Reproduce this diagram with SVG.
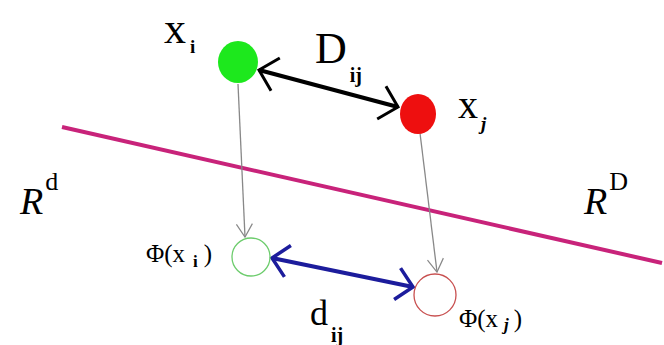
<svg xmlns="http://www.w3.org/2000/svg" width="664" height="345" viewBox="0 0 664 345">
<style>
text{font-family:"Liberation Serif","Times New Roman","DejaVu Serif",serif;fill:#000}
.it{font-style:italic}
.sub{font-weight:bold}
</style>
<defs>
<marker id="ak" markerUnits="userSpaceOnUse" markerWidth="40" markerHeight="40" viewBox="-20 -20 40 40" refX="0" refY="0" orient="auto-start-reverse" overflow="visible">
<path d="M-17,-17 L0,0 L-17,17" fill="none" stroke="#000" stroke-width="3"/>
</marker>
<marker id="ab" markerUnits="userSpaceOnUse" markerWidth="40" markerHeight="40" viewBox="-20 -20 40 40" refX="0" refY="0" orient="auto-start-reverse" overflow="visible">
<path d="M-16,-16 L0,0 L-16,16" fill="none" stroke="#1c1c9c" stroke-width="3.5"/>
</marker>
<marker id="ag" markerUnits="userSpaceOnUse" markerWidth="30" markerHeight="30" viewBox="-15 -15 30 30" refX="0" refY="0" orient="auto" overflow="visible">
<path d="M-13,-8 L0,0 L-13,8" fill="none" stroke="#888" stroke-width="1.2"/>
</marker>
</defs>
<line id="plane" x1="62" y1="127" x2="662" y2="263" stroke="#c8237a" stroke-width="4"/>
<g id="connectors" fill="none">
<line x1="238" y1="84" x2="245" y2="237" stroke="#888" stroke-width="1.3" marker-end="url(#ag)"/>
<line x1="420" y1="133" x2="437" y2="272" stroke="#888" stroke-width="1.3" marker-end="url(#ag)"/>
<line x1="259" y1="70" x2="398" y2="107" stroke="#000" stroke-width="4" marker-start="url(#ak)" marker-end="url(#ak)"/>
<line x1="272" y1="258" x2="413" y2="287" stroke="#1c1c9c" stroke-width="4" marker-start="url(#ab)" marker-end="url(#ab)"/>
</g>
<g id="xi">
<ellipse cx="238" cy="62" rx="20" ry="21" fill="#1de81d"/>
<text x="164" y="43" font-size="44">x<tspan class="sub" font-size="19" dx="4" dy="10">i</tspan></text>
</g>
<g id="xj">
<ellipse cx="418" cy="114" rx="18" ry="20" fill="#ee0f0f"/>
<text x="458" y="118" font-size="40">x<tspan class="sub it" font-size="19" dx="3" dy="12">j</tspan></text>
</g>
<g id="Dij">
<text x="315" y="63" font-size="44">D<tspan class="sub" font-size="20" dx="3" dy="19">ij</tspan></text>
</g>
<g id="phixi">
<circle cx="251" cy="257" r="19" fill="none" stroke="#6ccc6c" stroke-width="1.3"/>
<text x="146" y="262" font-size="25">Φ(x<tspan class="sub" font-size="17" dx="8" dy="5">i</tspan><tspan dy="-5" dx="6">)</tspan></text>
</g>
<g id="phixj">
<circle cx="435" cy="295" r="21" fill="none" stroke="#c85050" stroke-width="1.3"/>
<text x="459" y="327" font-size="25">Φ(x<tspan class="sub it" font-size="17" dx="6" dy="3">j</tspan><tspan dy="-3" dx="5">)</tspan></text>
</g>
<g id="dij">
<text x="310" y="325" font-size="36">d<tspan class="sub" font-size="20" dx="3" dy="17">ij</tspan></text>
</g>
<g id="Rd">
<text x="20" y="214" font-size="38"><tspan class="it">R</tspan><tspan font-size="26" dx="2" dy="-24">d</tspan></text>
</g>
<g id="RD">
<text x="584" y="214" font-size="38"><tspan class="it">R</tspan><tspan font-size="26" dx="2" dy="-24">D</tspan></text>
</g>
</svg>
